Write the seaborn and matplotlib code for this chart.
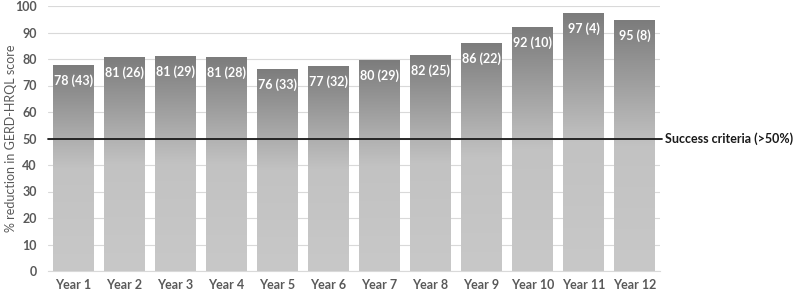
import matplotlib
matplotlib.use('Agg')
import matplotlib.pyplot as plt
import numpy as np
import pandas as pd
import seaborn as sns
from matplotlib.colors import LinearSegmentedColormap

years = ['Year 1', 'Year 2', 'Year 3', 'Year 4', 'Year 5', 'Year 6',
         'Year 7', 'Year 8', 'Year 9', 'Year 10', 'Year 11', 'Year 12']
reduction = [77.7, 80.6, 81.0, 80.6, 76.3, 77.2, 79.6, 81.5, 86.2, 92.0, 97.2, 94.6]
labels = ['78 (43)', '81 (26)', '81 (29)', '81 (28)', '76 (33)', '77 (32)',
          '80 (29)', '82 (25)', '86 (22)', '92 (10)', '97 (4)', '95 (8)']
threshold = 50

df = pd.DataFrame({'year': years, 'reduction': reduction})

sns.set_style('white')
plt.rcParams['font.family'] = ['Lato', 'DejaVu Sans']

fig = plt.figure(figsize=(7.95, 2.92), dpi=100)
ax = fig.add_axes([48 / 795, 21 / 292, 612 / 795, 265 / 292])

sns.barplot(data=df, x='year', y='reduction', color='#999999', width=0.8,
            ax=ax, zorder=2)

# gradient fill: dark at top, light at bottom
cmap = LinearSegmentedColormap.from_list('g', ['#c8c8c8', '#c2c2c2', '#7c7c7c'])
grad = np.linspace(0, 1, 256).reshape(-1, 1)
for bar, lab in zip(ax.patches, labels):
    x0, w, h = bar.get_x(), bar.get_width(), bar.get_height()
    bar.set_facecolor('none')
    bar.set_edgecolor('none')
    im = ax.imshow(grad, cmap=cmap, aspect='auto', origin='lower',
                   extent=[x0, x0 + w, 0, h], zorder=2)
    im.set_clip_path(bar)
    ax.text(x0 + w / 2, h - 3.5, lab, ha='center', va='top', color='white',
            fontsize=9, fontweight='bold', zorder=4)

ax.set_xlim(-0.5, len(years) - 0.5)
ax.set_ylim(0, 100)
ax.set_yticks(range(0, 101, 10))
ax.yaxis.grid(True, color='#d9d9d9', linewidth=0.8, zorder=0)
ax.set_axisbelow(True)
for s in ['top', 'right', 'left']:
    ax.spines[s].set_visible(False)
ax.spines['bottom'].set_color('#d9d9d9')
ax.tick_params(axis='both', length=0, colors='#595959', labelsize=9)
ax.tick_params(axis='x', pad=6)
ax.tick_params(axis='y', pad=8)
for t in ax.get_xticklabels() + ax.get_yticklabels():
    t.set_fontweight('bold')
ax.set_xlabel('')
ax.set_ylabel('% reduction in GERD-HRQL score', color='#595959', fontsize=9)
ax.yaxis.set_label_coords(-31 / 612, 0.5)

ax.axhline(threshold, xmin=0, xmax=1.003, color='#1a1a1a', linewidth=1.3,
           zorder=3, clip_on=False)
ax.text(len(years) - 0.5 + 0.1, threshold, 'Success criteria (>50%)',
        ha='left', va='center', fontsize=9, fontweight='bold',
        color='#1a1a1a')

fig.savefig('out.png', dpi=100)
